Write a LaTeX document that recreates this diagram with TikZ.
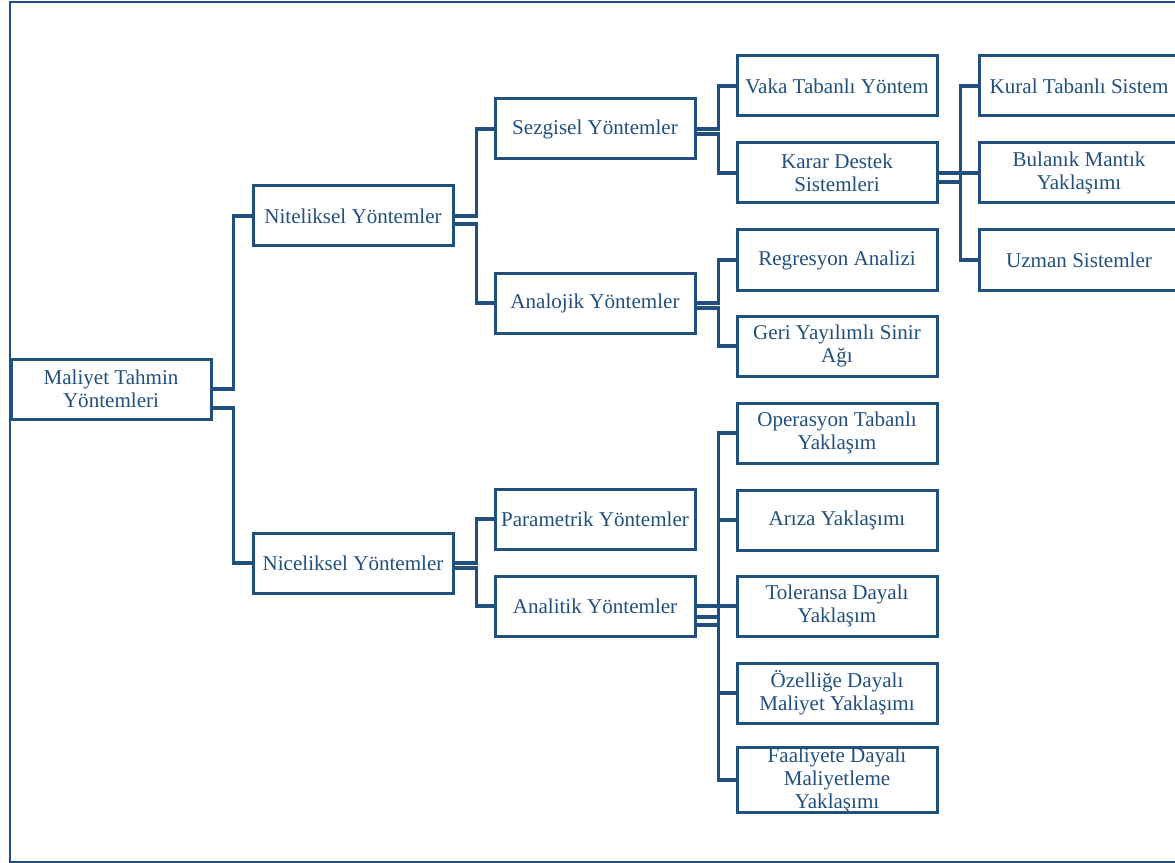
\documentclass[tikz,border=0pt]{standalone}
\usepackage{fontspec}
\setmainfont{Liberation Serif}
\usetikzlibrary{calc}
\definecolor{dblue}{RGB}{34,80,126}
\begin{document}
\begin{tikzpicture}[x=0.75pt,y=-0.75pt,
  box/.style={draw=dblue, line width=2.25pt, fill=white, minimum width=150pt, minimum height=45pt,
    inner sep=0pt, align=center, text=dblue, font=\fontsize{15.8}{17.3}\selectfont},
  conn/.style={draw=dblue, line width=2.8pt}]
\useasboundingbox (0,0) rectangle (1175,863);
\clip (0,0) rectangle (1175,863);
\draw[dblue, line width=1.5pt] (9.5,2.5) rectangle (1200,861.5);

\node[box] (root) at (111,389) {Maliyet Tahmin\\Yöntemleri};
\node[box] (nit) at (353,216) {Niteliksel Yöntemler};
\node[box] (nic) at (353,563) {Niceliksel Yöntemler};
\node[box] (sez) at (595,129) {Sezgisel Yöntemler};
\node[box] (ana) at (595,303) {Analojik Yöntemler};
\node[box] (par) at (595,519) {Parametrik Yöntemler};
\node[box] (anl) at (595,606) {Analitik Yöntemler};
\node[box] (vaka) at (837,86) {Vaka Tabanlı Yöntem};
\node[box] (karar) at (837,173) {Karar Destek\\Sistemleri};
\node[box] (reg) at (837,260) {Regresyon Analizi};
\node[box] (geri) at (837,346) {Geri Yayılımlı Sinir\\Ağı};
\node[box] (op) at (837,433) {Operasyon Tabanlı\\Yaklaşım};
\node[box] (ariza) at (837,520) {Arıza Yaklaşımı};
\node[box] (tol) at (837,606) {Toleransa Dayalı\\Yaklaşım};
\node[box] (oz) at (837,693) {Özelliğe Dayalı\\Maliyet Yaklaşımı};
\node[box] (faal) at (837,780) {Faaliyete Dayalı\\Maliyetleme\\Yaklaşımı};
\node[box] (kural) at (1079,86) {Kural Tabanlı Sistem};
\node[box] (bul) at (1079,173) {Bulanık Mantık\\Yaklaşımı};
\node[box] (uzman) at (1079,260) {Uzman Sistemler};

\path[conn] ($(root.east)+(0,0)$) -- ++(21,0) |- (nit.west);
\path[conn] ($(root.east)+(0,19)$) -- ++(21,0) |- (nic.west);
\path[conn] ($(nit.east)+(0,0)$) -- ++(22,0) |- (sez.west);
\path[conn] ($(nit.east)+(0,8)$) -- ++(22,0) |- (ana.west);
\path[conn] ($(nic.east)+(0,0)$) -- ++(22,0) |- (par.west);
\path[conn] ($(nic.east)+(0,5)$) -- ++(22,0) |- (anl.west);
\path[conn] ($(sez.east)+(0,0)$) -- ++(22,0) |- (vaka.west);
\path[conn] ($(sez.east)+(0,5)$) -- ++(22,0) |- (karar.west);
\path[conn] ($(ana.east)+(0,0)$) -- ++(22,0) |- (reg.west);
\path[conn] ($(ana.east)+(0,5)$) -- ++(22,0) |- (geri.west);
\path[conn] ($(anl.east)+(0,19)$) -- ++(22,0) |- (op.west);
\path[conn] ($(anl.east)+(0,11)$) -- ++(22,0) |- (ariza.west);
\path[conn] ($(anl.east)+(0,0)$) -- ++(22,0) |- (tol.west);
\path[conn] ($(anl.east)+(0,11)$) -- ++(22,0) |- (oz.west);
\path[conn] ($(anl.east)+(0,19)$) -- ++(22,0) |- (faal.west);
\path[conn] ($(karar.east)+(0,9)$) -- ++(22,0) |- (kural.west);
\path[conn] ($(karar.east)+(0,0)$) -- ++(22,0) |- (bul.west);
\path[conn] ($(karar.east)+(0,9)$) -- ++(22,0) |- (uzman.west);
\end{tikzpicture}
\end{document}
